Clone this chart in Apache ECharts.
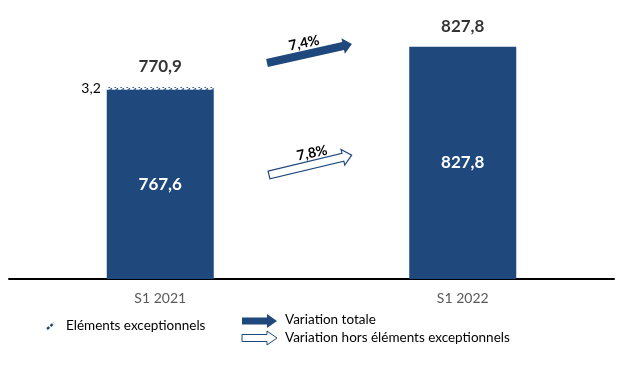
<!DOCTYPE html>
<html>
<head>
<meta charset="utf-8">
<script src="https://cdn.jsdelivr.net/npm/echarts@6/dist/echarts.min.js"></script>
<style>html,body{margin:0;padding:0;background:#fff;}#c{width:626px;height:373px;}</style>
</head>
<body>
<div id="c"></div>
<script>
var categories = ['S1 2021', 'S1 2022'];
var baseValues = [767.6, 827.8];
var exceptionalValues = [3.2, 0];
var totalValues = [770.9, 827.8];
var variationTotale = '7,4%';
var variationHors = '7,8%';
var legendLabels = ['Eléments exceptionnels', 'Variation totale', 'Variation hors éléments exceptionnels'];

var BLUE = '#1f497d';
var FONT = 'Lato, "Liberation Sans", sans-serif';
function fmt(v) { return v.toFixed(1).replace('.', ','); }

// hatch pattern
var pc = document.createElement('canvas');
pc.width = 6; pc.height = 4;
var pctx = pc.getContext('2d');
pctx.fillStyle = '#ffffff'; pctx.fillRect(0, 0, 6, 4);
pctx.strokeStyle = BLUE; pctx.lineWidth = 1.8;
pctx.beginPath(); pctx.moveTo(0.5, 3.5); pctx.lineTo(4, 0.5); pctx.stroke();

function arrowShape(L, sh, hh, hl) {
  return [[0, -sh], [L - hl, -sh], [L - hl, -hh], [L, 0], [L - hl, hh], [L - hl, sh], [0, sh]];
}

var chart = echarts.init(document.getElementById('c'));
chart.setOption({
  animation: false,
  grid: { left: 9, right: 12, top: 31, bottom: 94 },
  xAxis: {
    type: 'category', data: categories,
    axisLine: { lineStyle: { color: '#000', width: 2 } },
    axisTick: { show: false },
    axisLabel: { color: '#595959', fontSize: 14, fontFamily: FONT, margin: 12 }
  },
  yAxis: { type: 'value', min: 500, max: 850, show: false, splitLine: { show: false } },
  series: [
    {
      type: 'bar', stack: 's', data: baseValues, barWidth: 107,
      itemStyle: { color: BLUE },
      label: { show: true, position: 'inside', color: '#fff', fontWeight: 'bold', fontSize: 17, fontFamily: FONT,
        formatter: function (p) { return fmt(p.value); } }
    },
    {
      type: 'bar', stack: 's', data: exceptionalValues, barWidth: 107,
      itemStyle: { color: { image: pc, repeat: 'repeat' } },
      label: { show: true, position: 'left', distance: 6, color: '#000', fontSize: 14, fontFamily: FONT,
        formatter: function (p) { return p.value ? fmt(p.value) : ''; } }
    },
    {
      type: 'scatter', data: totalValues, symbolSize: 0,
      label: { show: true, position: 'top', distance: 12, color: '#000', fontWeight: 'bold', fontSize: 17, fontFamily: FONT,
        formatter: function (p) { return fmt(p.value); } }
    }
  ],
  graphic: [
    { type: 'polygon', x: 267, y: 63, rotation: 0.22, shape: { points: arrowShape(87, 4, 8, 9) },
      style: { fill: BLUE } },
    { type: 'text', x: 304, y: 43, rotation: 0.2, style: { text: variationTotale, fill: '#000', font: 'bold 14px ' + FONT, align: 'center', verticalAlign: 'middle' } },
    { type: 'polygon', x: 269, y: 175, rotation: 0.235, shape: { points: arrowShape(85, 4, 8, 9) },
      style: { fill: '#fff', stroke: BLUE, lineWidth: 1.2 } },
    { type: 'text', x: 312, y: 153, rotation: 0.2, style: { text: variationHors, fill: '#000', font: 'bold 14px ' + FONT, align: 'center', verticalAlign: 'middle' } },
    // legend
    { type: 'line', shape: { x1: 47, y1: 329, x2: 54, y2: 323 }, style: { stroke: BLUE, lineWidth: 2.4, lineDash: [3, 1.5] } },
    { type: 'text', x: 66, y: 326, style: { text: legendLabels[0], fill: '#000', font: '13.5px ' + FONT, verticalAlign: 'middle' } },
    { type: 'polygon', x: 242, y: 321, shape: { points: arrowShape(35, 3.5, 7, 10) }, style: { fill: BLUE } },
    { type: 'text', x: 285, y: 320, style: { text: legendLabels[1], fill: '#000', font: '13.5px ' + FONT, verticalAlign: 'middle' } },
    { type: 'polygon', x: 242, y: 338, shape: { points: arrowShape(35, 3.5, 7, 10) }, style: { fill: '#fff', stroke: BLUE, lineWidth: 1 } },
    { type: 'text', x: 285, y: 338, style: { text: legendLabels[2], fill: '#000', font: '13.5px ' + FONT, verticalAlign: 'middle' } }
  ]
});
</script>
</body>
</html>
